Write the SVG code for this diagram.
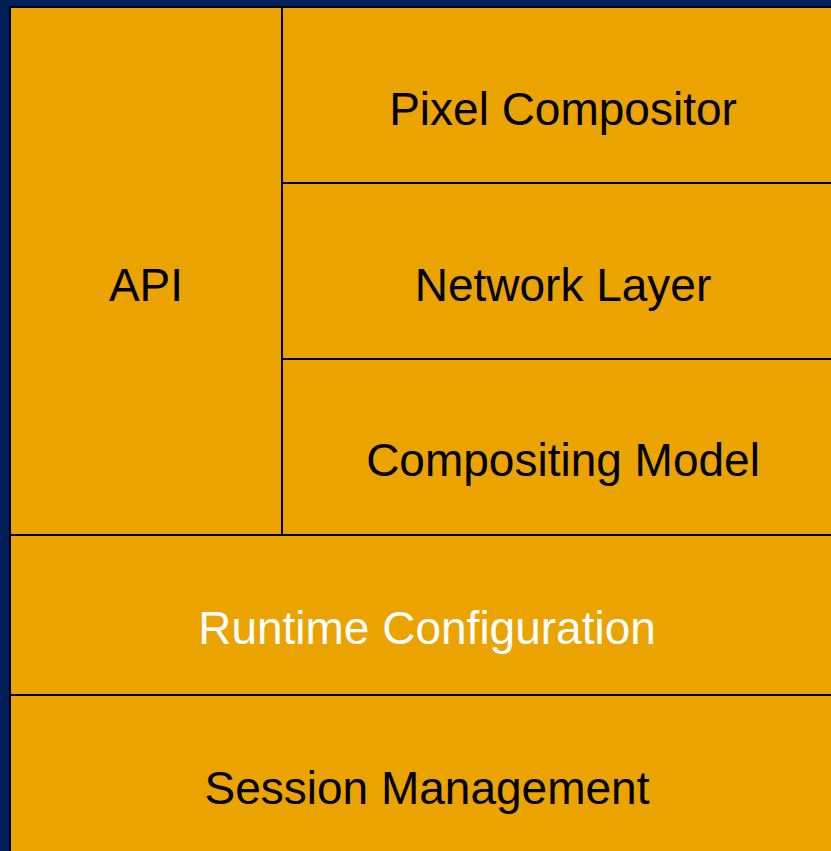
<svg xmlns="http://www.w3.org/2000/svg" width="831" height="851" viewBox="0 0 831 851">
<style>
.box{fill:#eba300;stroke:#000;stroke-width:2}
.t{font-family:"Liberation Sans",Arial,sans-serif;font-size:46px;text-anchor:middle;fill:#000}
.w{fill:#fff}
</style>
<rect x="0" y="0" width="831" height="851" fill="#001e5a"/>
<g id="api"><rect class="box" x="10" y="7" width="272" height="528"/><text class="t" x="146" y="301">API</text></g>
<g id="pixel-compositor"><rect class="box" x="282" y="7" width="562" height="176"/><text class="t" x="563" y="125">Pixel Compositor</text></g>
<g id="network-layer"><rect class="box" x="282" y="183" width="562" height="176"/><text class="t" x="563" y="301">Network Layer</text></g>
<g id="compositing-model"><rect class="box" x="282" y="359" width="562" height="176"/><text class="t" x="563" y="476">Compositing Model</text></g>
<g id="runtime-configuration"><rect class="box" x="10" y="535" width="834" height="160"/><text class="t w" x="427" y="644">Runtime Configuration</text></g>
<g id="session-management"><rect class="box" x="10" y="695" width="834" height="170"/><text class="t" x="427" y="804">Session Management</text></g>
<g id="connectors"/>
</svg>
